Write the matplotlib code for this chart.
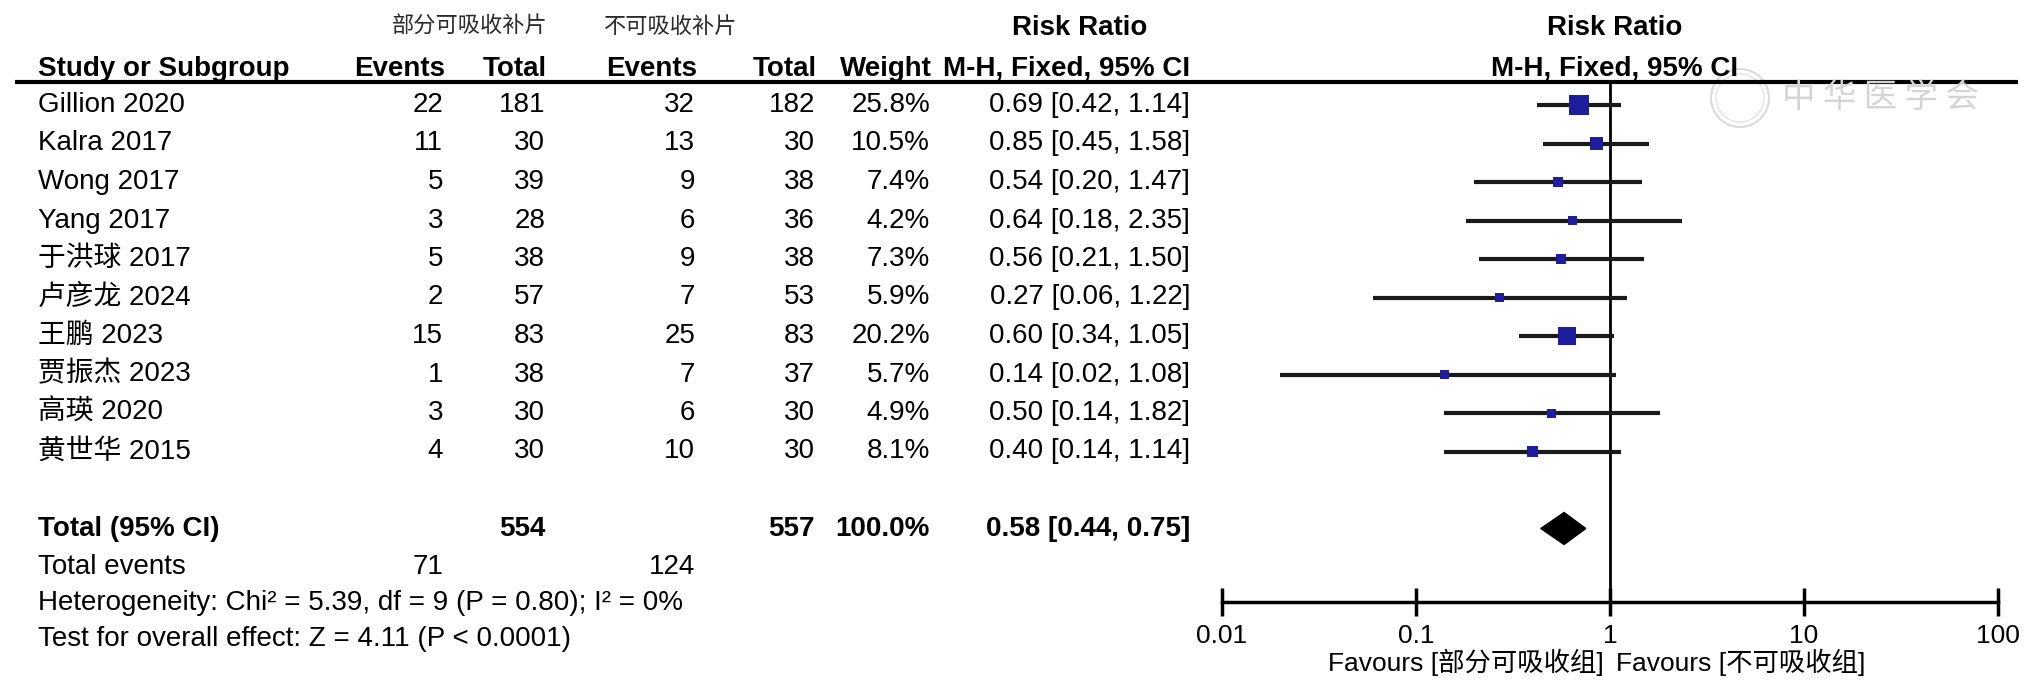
import matplotlib
matplotlib.use("Agg")
import matplotlib.pyplot as plt
from matplotlib.patches import Circle
import numpy as np

# data
studies = ["Gillion 2020", "Kalra 2017", "Wong 2017", "Yang 2017", "于洪球 2017",
           "卢彦龙 2024", "王鹏 2023", "贾振杰 2023", "高瑛 2020", "黄世华 2015"]
events_a = [22, 11, 5, 3, 5, 2, 15, 1, 3, 4]
total_a = [181, 30, 39, 28, 38, 57, 83, 38, 30, 30]
events_b = [32, 13, 9, 6, 9, 7, 25, 7, 6, 10]
total_b = [182, 30, 38, 36, 38, 53, 83, 37, 30, 30]
weights = [25.8, 10.5, 7.4, 4.2, 7.3, 5.9, 20.2, 5.7, 4.9, 8.1]
rr = [0.69, 0.85, 0.54, 0.64, 0.56, 0.27, 0.60, 0.14, 0.50, 0.40]
rr_lo = [0.42, 0.45, 0.20, 0.18, 0.21, 0.06, 0.34, 0.02, 0.14, 0.14]
rr_hi = [1.14, 1.58, 1.47, 2.35, 1.50, 1.22, 1.05, 1.08, 1.82, 1.14]
pooled = [0.58, 0.44, 0.75]
sum_total_a, sum_total_b = 554, 557
sum_events_a, sum_events_b = 71, 124
tick_vals = [0.01, 0.1, 1, 10, 100]
tick_labels = ["0.01", "0.1", "1", "10", "100"]

plt.rcParams['font.family'] = ['Liberation Sans', 'Noto Sans CJK SC']

W, H = 2037, 690
fig = plt.figure(figsize=(W / 100, H / 100), dpi=100)
tab = fig.add_axes([0, 0, 1, 1])
tab.set_xlim(0, W)
tab.set_ylim(H, 0)
tab.axis('off')

# layout in pixels
row0, pitch = 105, 38.5
rows = row0 + pitch * np.arange(len(studies))
y_total = row0 + pitch * 11
y_events = y_total + 38
y_het = y_total + 75
y_test = y_total + 110
y_line = 82
y_axis = 602
fs = 20
ax_left, ax_right = 1222, 1998
x_name = 38
x_ev_a, x_tot_a, x_ev_b, x_tot_b, x_wt, x_ci = 443, 545, 695, 815, 930, 1190

# header
grey = '#2a2a2a'
tab.text(470, 26, "部分可吸收补片", ha='center', va='center', fontsize=16, color=grey,
         family=['Noto Sans CJK SC'])
tab.text(670, 26, "不可吸收补片", ha='center', va='center', fontsize=16, color=grey,
         family=['Noto Sans CJK SC'])
tab.text(1080, 28, "Risk Ratio", ha='center', va='center', fontsize=fs, weight='bold')
tab.text(1615, 28, "Risk Ratio", ha='center', va='center', fontsize=fs, weight='bold')
hy = 69
tab.text(x_name, hy, "Study or Subgroup", ha='left', va='center', fontsize=fs, weight='bold')
for x, s in [(x_ev_a, "Events"), (x_tot_a, "Total"), (x_ev_b, "Events"),
             (x_tot_b, "Total"), (x_wt, "Weight")]:
    tab.text(x + 2, hy, s, ha='right', va='center', fontsize=fs, weight='bold')
tab.text(x_ci, hy, "M-H, Fixed, 95% CI", ha='right', va='center', fontsize=fs, weight='bold')
tab.text(1615, hy, "M-H, Fixed, 95% CI", ha='center', va='center', fontsize=fs, weight='bold')
tab.plot([15, 2018], [y_line, y_line], color='black', lw=3, solid_capstyle='butt')

# study rows
for i, y in enumerate(rows):
    tab.text(x_name, y, studies[i], ha='left', va='center', fontsize=fs)
    tab.text(x_ev_a, y, str(events_a[i]), ha='right', va='center', fontsize=fs)
    tab.text(x_tot_a, y, str(total_a[i]), ha='right', va='center', fontsize=fs)
    tab.text(x_ev_b, y, str(events_b[i]), ha='right', va='center', fontsize=fs)
    tab.text(x_tot_b, y, str(total_b[i]), ha='right', va='center', fontsize=fs)
    tab.text(x_wt, y, f"{weights[i]:.1f}%", ha='right', va='center', fontsize=fs)
    tab.text(x_ci, y, f"{rr[i]:.2f} [{rr_lo[i]:.2f}, {rr_hi[i]:.2f}]",
             ha='right', va='center', fontsize=fs)

# totals
tab.text(x_name, y_total, "Total (95% CI)", ha='left', va='center', fontsize=fs, weight='bold')
tab.text(x_tot_a, y_total, str(sum_total_a), ha='right', va='center', fontsize=fs, weight='bold')
tab.text(x_tot_b, y_total, str(sum_total_b), ha='right', va='center', fontsize=fs, weight='bold')
tab.text(x_wt, y_total, f"{sum(weights):.1f}%", ha='right', va='center', fontsize=fs,
         weight='bold')
tab.text(x_ci, y_total, f"{pooled[0]:.2f} [{pooled[1]:.2f}, {pooled[2]:.2f}]",
         ha='right', va='center', fontsize=fs, weight='bold')
tab.text(x_name, y_events, "Total events", ha='left', va='center', fontsize=fs)
tab.text(x_ev_a, y_events, str(sum_events_a), ha='right', va='center', fontsize=fs)
tab.text(x_ev_b, y_events, str(sum_events_b), ha='right', va='center', fontsize=fs)
tab.text(x_name, y_het, "Heterogeneity: Chi² = 5.39, df = 9 (P = 0.80); I² = 0%",
         ha='left', va='center', fontsize=fs)
tab.text(x_name, y_test, "Test for overall effect: Z = 4.11 (P < 0.0001)",
         ha='left', va='center', fontsize=fs)

# watermark
tab.add_patch(Circle((1740, 98), 29, fill=False, ec='#dadada', lw=1.5))
tab.add_patch(Circle((1740, 98), 24, fill=False, ec='#e2e2e2', lw=1))
tab.text(1880, 98, "中 华 医 学 会", ha='center', va='center', fontsize=24,
         color='#d4d4d4', family=['Noto Sans CJK SC'])

# forest panel
fa = fig.add_axes([ax_left / W, 0, (ax_right - ax_left) / W, 1])
fa.patch.set_visible(False)
fa.set_xscale('log')
fa.set_xlim(0.01, 100)
fa.set_ylim(H, 0)
for s in ['top', 'left', 'right']:
    fa.spines[s].set_visible(False)
fa.spines['bottom'].set_position(('data', y_axis))
fa.spines['bottom'].set_linewidth(2.5)
fa.set_yticks([])
fa.set_xticks(tick_vals)
fa.set_xticklabels(tick_labels)
fa.minorticks_off()
fa.tick_params(axis='x', direction='inout', length=20, width=2.5, labelsize=19, pad=6)

fa.plot([1, 1], [y_line, y_axis], color='black', lw=2)
fa.hlines(rows, rr_lo, rr_hi, color='#1a1a1a', lw=3)
side_px = np.maximum(20 * np.sqrt(np.array(weights) / max(weights)), 9)
fa.scatter(rr, rows, marker='s', s=(side_px * 0.72) ** 2, color='#1e1e9c', zorder=3,
           linewidths=0)
fa.fill([pooled[1], pooled[0], pooled[2], pooled[0]],
        [y_total, y_total - 16, y_total, y_total + 16], color='black', zorder=3)

fy = 662
fa.text(0.93, fy, "Favours [部分可吸收组]", ha='right', va='center', fontsize=19)
fa.text(1.08, fy, "Favours [不可吸收组]", ha='left', va='center', fontsize=19)

fig.savefig("out.png", dpi=100)
